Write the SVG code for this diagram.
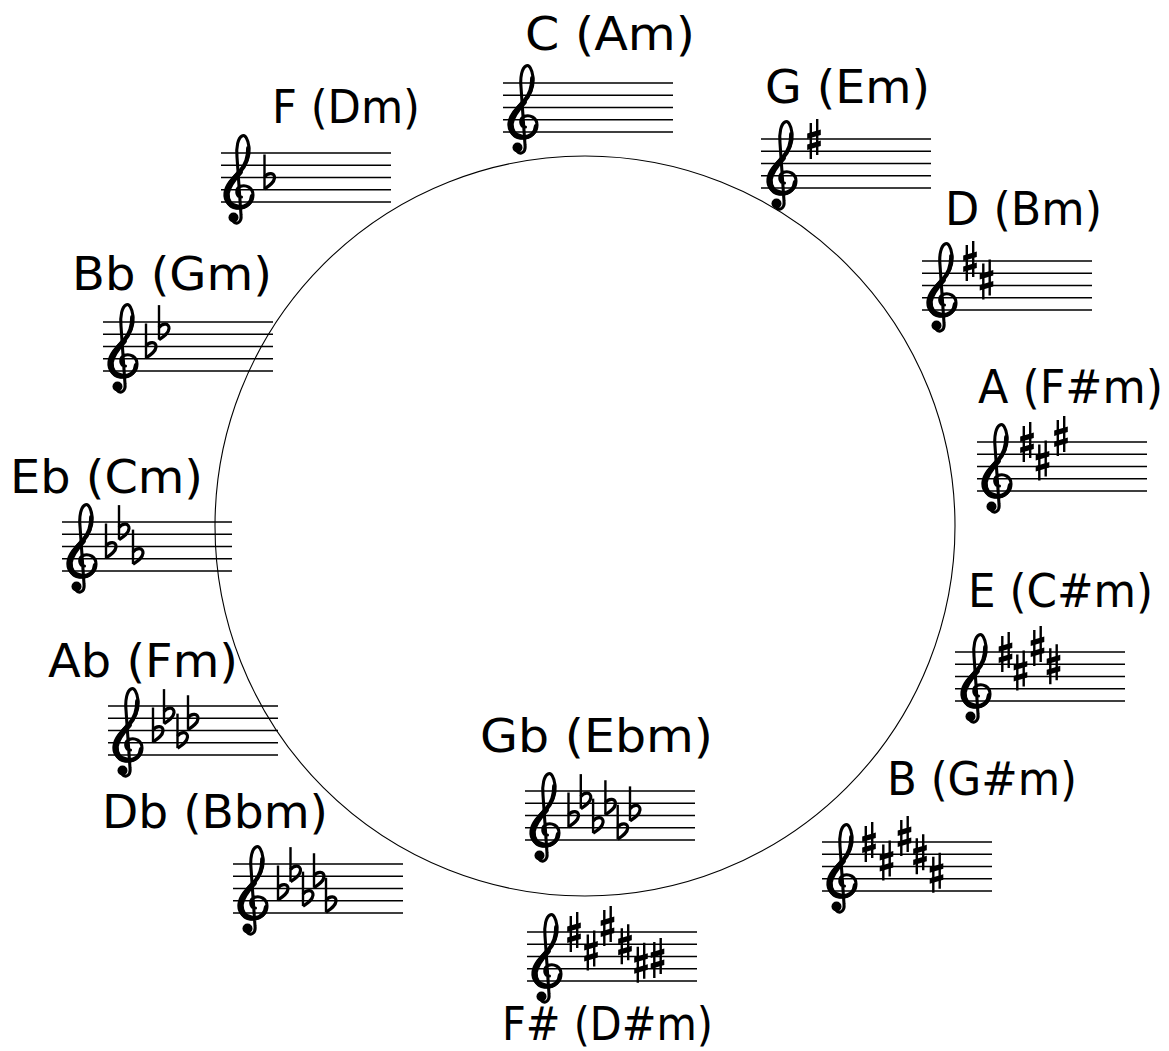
<svg xmlns="http://www.w3.org/2000/svg" xmlns:xlink="http://www.w3.org/1999/xlink" width="1169" height="1051" viewBox="0 0 1169 1051">
<style>
.lbl{font-family:"DejaVu Sans","Liberation Sans",sans-serif;font-size:46px;fill:#000}
.sl{stroke:#000;stroke-width:1.4;fill:none}
.ck{stroke:#000;fill:none;stroke-linecap:round;stroke-linejoin:round}
</style>
<defs>
<g id="staff">
<path class="sl" d="M0 0H170M0 12.25H170M0 24.5H170M0 36.75H170M0 49H170"/>
</g>
<g id="clef">
<path class="ck" stroke-width="3.1" d="M17.5 44C12 44 11 36 16 33.5C22 31 29 35 29 42C29 50 22 55 15 55C6 55 0 48 1 40C2 31 10 24 16 18C22 12 26 4 25 -6C24 -14 21 -19 18 -17C14 -15 12 -6 13 4L17 62C18 70 12 72 9 68"/>
<path class="ck" stroke-width="5.6" d="M13 54C6.5 53.5 2.5 48 3 40.5C4 32.5 10 25.5 16 19"/>
<path class="ck" stroke-width="4.2" d="M28 43C27.5 50 22 54 15 54.5M16 18.5C21 13 24.5 5 24.2 -5"/>
<circle cx="9.5" cy="64.5" r="5" fill="#000"/>
</g>
<g id="sh">
<path d="M-3.2 -16V20M3.2 -20V16" stroke="#000" stroke-width="2.4" fill="none"/>
<path d="M-6.8 0L6.8 -4L6.8 -9.5L-6.8 -5.5ZM-6.8 11L6.8 7L6.8 1.5L-6.8 5.5Z" fill="#000"/>
</g>
<g id="fl">
<path d="M0 -23V11.5" stroke="#000" stroke-width="2.4" fill="none"/>
<path d="M0 -0.5C3.5 -5.5 10.5 -5 10 0.5C9.5 5.5 4.5 8.5 0 11.5" stroke="#000" stroke-width="3.2" fill="none" stroke-linejoin="round"/>
</g>
</defs>
<rect width="1169" height="1051" fill="#fff"/>
<g id="connectors">
<circle id="circle" cx="585" cy="526" r="370" fill="none" stroke="#000" stroke-width="1.1"/>
</g>

<g id="key-C">
<text class="lbl" x="525" y="50" textLength="170" lengthAdjust="spacingAndGlyphs">C (Am)</text>
<g transform="translate(503,83)"><use xlink:href="#staff"/><use xlink:href="#clef" x="5"/></g>
</g>

<g id="key-G">
<text class="lbl" x="765" y="103" textLength="165" lengthAdjust="spacingAndGlyphs">G (Em)</text>
<g transform="translate(761,139)"><use xlink:href="#staff"/><use xlink:href="#clef" x="6"/>
<use xlink:href="#sh" x="53" y="0"/></g>
</g>

<g id="key-D">
<text class="lbl" x="945" y="225" textLength="157" lengthAdjust="spacingAndGlyphs">D (Bm)</text>
<g transform="translate(922,261)"><use xlink:href="#staff"/><use xlink:href="#clef" x="5"/>
<use xlink:href="#sh" x="48" y="0"/><use xlink:href="#sh" x="64.5" y="18.375"/></g>
</g>

<g id="key-A">
<text class="lbl" x="978" y="403" textLength="185" lengthAdjust="spacingAndGlyphs">A (F#m)</text>
<g transform="translate(977,442)"><use xlink:href="#staff"/><use xlink:href="#clef" x="5"/>
<use xlink:href="#sh" x="50" y="0"/><use xlink:href="#sh" x="65.5" y="18.375"/><use xlink:href="#sh" x="84" y="-6.125"/></g>
</g>

<g id="key-E">
<text class="lbl" x="968" y="607" textLength="185" lengthAdjust="spacingAndGlyphs">E (C#m)</text>
<g transform="translate(955,652)"><use xlink:href="#staff"/><use xlink:href="#clef" x="6"/>
<use xlink:href="#sh" x="50.5" y="0"/><use xlink:href="#sh" x="65.5" y="18.375"/><use xlink:href="#sh" x="82.5" y="-6.125"/><use xlink:href="#sh" x="98.5" y="12.25"/></g>
</g>

<g id="key-B">
<text class="lbl" x="887" y="795" textLength="190" lengthAdjust="spacingAndGlyphs">B (G#m)</text>
<g transform="translate(822,842)"><use xlink:href="#staff"/><use xlink:href="#clef" x="5"/>
<use xlink:href="#sh" x="47" y="0"/><use xlink:href="#sh" x="64.5" y="18.375"/><use xlink:href="#sh" x="82.5" y="-6.125"/><use xlink:href="#sh" x="98" y="12.25"/><use xlink:href="#sh" x="114.5" y="30.625"/></g>
</g>

<g id="key-Fsharp">
<text class="lbl" x="502" y="1040" textLength="211" lengthAdjust="spacingAndGlyphs">F# (D#m)</text>
<g transform="translate(527,932)"><use xlink:href="#staff"/><use xlink:href="#clef" x="5"/>
<use xlink:href="#sh" x="47" y="0"/><use xlink:href="#sh" x="64" y="18.375"/><use xlink:href="#sh" x="80.5" y="-6.125"/><use xlink:href="#sh" x="98" y="12.25"/><use xlink:href="#sh" x="114" y="30.625"/><use xlink:href="#sh" x="130.5" y="26"/></g>
</g>

<g id="key-Gb">
<text class="lbl" x="480" y="752" textLength="233" lengthAdjust="spacingAndGlyphs">Gb (Ebm)</text>
<g transform="translate(525,791)"><use xlink:href="#staff"/><use xlink:href="#clef" x="5"/>
<use xlink:href="#fl" x="43.5" y="24.5"/><use xlink:href="#fl" x="55.8" y="6.125"/><use xlink:href="#fl" x="68.1" y="30.625"/><use xlink:href="#fl" x="80.4" y="12.25"/><use xlink:href="#fl" x="92.7" y="36.75"/><use xlink:href="#fl" x="105" y="18.375"/></g>
</g>

<g id="key-Db">
<text class="lbl" x="102" y="828" textLength="226" lengthAdjust="spacingAndGlyphs">Db (Bbm)</text>
<g transform="translate(233,864)"><use xlink:href="#staff"/><use xlink:href="#clef" x="5"/>
<use xlink:href="#fl" x="45" y="24.5"/><use xlink:href="#fl" x="57.5" y="6.125"/><use xlink:href="#fl" x="70" y="30.625"/><use xlink:href="#fl" x="81" y="12.25"/><use xlink:href="#fl" x="93" y="36.75"/></g>
</g>

<g id="key-Ab">
<text class="lbl" x="48" y="677" textLength="190" lengthAdjust="spacingAndGlyphs">Ab (Fm)</text>
<g transform="translate(108,706)"><use xlink:href="#staff"/><use xlink:href="#clef" x="5"/>
<use xlink:href="#fl" x="45" y="24.5"/><use xlink:href="#fl" x="56" y="6.125"/><use xlink:href="#fl" x="69.5" y="30.625"/><use xlink:href="#fl" x="80" y="12.25"/></g>
</g>

<g id="key-Eb">
<text class="lbl" x="10" y="493" textLength="193" lengthAdjust="spacingAndGlyphs">Eb (Cm)</text>
<g transform="translate(62,522)"><use xlink:href="#staff"/><use xlink:href="#clef" x="5"/>
<use xlink:href="#fl" x="44" y="24.5"/><use xlink:href="#fl" x="57" y="6.125"/><use xlink:href="#fl" x="71" y="30.625"/></g>
</g>

<g id="key-Bb">
<text class="lbl" x="72" y="290" textLength="200" lengthAdjust="spacingAndGlyphs">Bb (Gm)</text>
<g transform="translate(103,322)"><use xlink:href="#staff"/><use xlink:href="#clef" x="5"/>
<use xlink:href="#fl" x="43" y="24.5"/><use xlink:href="#fl" x="56" y="6.125"/></g>
</g>

<g id="key-F">
<text class="lbl" x="272" y="123" textLength="148" lengthAdjust="spacingAndGlyphs">F (Dm)</text>
<g transform="translate(221,153)"><use xlink:href="#staff"/><use xlink:href="#clef" x="3"/>
<use xlink:href="#fl" x="43.5" y="24.5"/></g>
</g>
</svg>
